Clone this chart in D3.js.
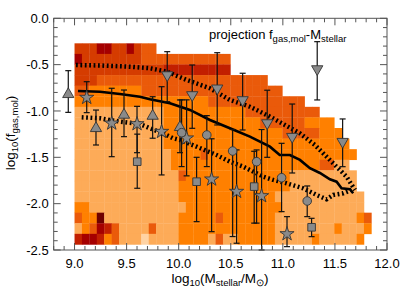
<!DOCTYPE html>
<html>
<head>
<meta charset="utf-8">
<script src="https://cdn.jsdelivr.net/npm/d3@7"></script>
<style>
  body { margin: 0; background: #fff; }
  svg { display: block; font-family: "Liberation Sans", Arial, Helvetica, sans-serif; }
</style>
</head>
<body>
<div id="chart"></div>
<script>
// 2D histogram: rows from top (y high) to bottom, one char per x bin
// . empty, p pale, l light orange, o orange, d dark orange, r red-orange, R red, D dark red, K darkest
const histX0 = 9.0, histDx = 0.07125;
const histYTop = -0.27, histDy = 0.1142;
const histRows = [
  "rrrDDrrDrdd.............................",
  "Drrrrrrrrdddddddddddd...................",
  "rrrrrrrrrrrrRRRRRRRRR...................",
  "rrrddddddddddddddddddddddd..............",
  "ddoooooooddddddddddddddddddd............",
  "ooooooooooooooooooddddddddddddd.........",
  "llllllllllllooooooooooodddddddddd.......",
  "lllllllllllloooooooooooooddddddoooo.....",
  "lllllllllllloooooooooooooooodddddooo....",
  "llllllllllllooooooooooooooooooooooooo...",
  "llllllllllllloooodoooooooooooooooooooo..",
  "lllllllllllllooooooooooooooooooooddll...",
  "lllllllllllllldoooooooooooooolllllllll..",
  "llllllllllllllooooooooooooooolllllllll..",
  "llllllllllllllooooooooooooollllllllllll.",
  "oolllllllllllllooooooooooooolllllllllll.",
  "dooKllllllllllooooodooooooolllllllllllod",
  "lodDRdlllldlllooooooooooooollllllllolllo",
  "RDDRodlllpllllooooldllooooolllllolllllo."
];
const levelColor = {
  p: "#ffd3a4", l: "#fdab58", o: "#ff8000", d: "#ea5a0a",
  r: "#d53c00", R: "#c21f00", D: "#a50000", K: "#6e0000"
};

// median and 1-sigma lines of the model
const medX = [9.033, 9.244, 9.436, 9.628, 9.724, 9.916, 10.108, 10.30, 10.492, 10.684, 10.876, 10.97, 11.068, 11.164, 11.26, 11.356, 11.452, 11.516, 11.564, 11.644, 11.675];
const medY = [-0.784, -0.792, -0.817, -0.846, -0.874, -0.917, -0.989, -1.097, -1.187, -1.277, -1.385, -1.475, -1.475, -1.528, -1.618, -1.669, -1.737, -1.763, -1.834, -1.845, -1.888];
const upX = [9.014, 9.244, 9.532, 9.724, 9.887, 10.079, 10.30, 10.492, 10.684, 10.876, 11.02, 11.164, 11.308, 11.516, 11.612, 11.692];
const upY = [-0.504, -0.509, -0.522, -0.539, -0.576, -0.666, -0.755, -0.881, -0.954, -1.061, -1.151, -1.241, -1.367, -1.601, -1.709, -1.852];
const loX = [9.069, 9.244, 9.436, 9.628, 9.724, 9.849, 9.945, 10.012, 10.172, 10.364, 10.492, 10.62, 10.812, 10.908, 11.036, 11.195, 11.324, 11.42, 11.484, 11.58, 11.66];
const loY = [-1.068, -1.079, -1.115, -1.14, -1.187, -1.241, -1.294, -1.313, -1.385, -1.475, -1.547, -1.601, -1.709, -1.744, -1.78, -1.834, -1.906, -1.953, -1.906, -1.888, -1.852];

// observations: x, y, error bar top, error bar bottom
const triUpX = [8.94, 9.206, 9.475, 9.75, 10.012];
const triUpY = [-0.82, -1.187, -1.043, -1.054, -1.176];
const triUpHi = [-0.565, -0.99, -0.774, -0.846, -0.881];
const triUpLo = [-1.015, -1.367, -1.277, -1.294, -1.45];

const triDnX = [9.89, 10.13, 10.37, 10.614, 10.85, 11.09, 11.33, 11.574];
const triDnY = [-0.612, -0.827, -0.755, -0.881, -1.13, -1.277, -0.547, -1.331];
const triDnHi = [-0.36, -0.504, -0.371, -0.593, -0.776, -0.925, -0.252, -1.086];
const triDnLo = [-0.9, -1.187, -1.151, -1.205, -1.5, -1.669, -0.881, -1.601];

const starX = [9.117, 9.357, 9.60, 9.836, 10.076, 10.316, 10.556, 10.796, 11.04];
const starY = [-0.856, -1.133, -1.14, -1.223, -1.294, -1.737, -1.87, -1.917, -2.327];
const starHi = [-0.684, -0.755, -0.95, -0.738, -0.88, -1.3, -1.42, -1.2, -2.14];
const starLo = [-1.018, -1.493, -1.45, -1.69, -1.7, -2.302, -2.427, -2.5, -2.464];

const circX = [10.028, 10.27, 10.518, 10.748, 10.988, 11.234];
const circY = [-1.234, -1.259, -1.432, -1.547, -1.72, -1.971];
const circHi = [-0.88, -1.05, -1.2, -1.42, -1.349, -1.809];
const circLo = [-1.6, -1.6, -2.355, -2.21, -2.086, -2.14];

const sqX = [9.602, 10.172, 10.725, 11.276];
const sqY = [-1.547, -1.763, -1.816, -2.255];
const sqHi = [-1.25, -1.5, -1.435, -2.158];
const sqLo = [-1.834, -2.194, -2.21, -2.356];

const xTicks = [9.0, 9.5, 10.0, 10.5, 11.0, 11.5, 12.0];
const yTicks = [0.0, -0.5, -1.0, -1.5, -2.0, -2.5];

const width = 407, height = 296;
const plotL = 53.7, plotR = 387, plotT = 18.3, plotB = 250;

const x = d3.scaleLinear().domain([8.8, 12.0]).range([plotL, plotR]);
const y = d3.scaleLinear().domain([-2.5, 0.0]).range([plotB, plotT]);

const svg = d3.select("#chart").append("svg")
    .attr("width", width)
    .attr("height", height);

// heatmap cells
const cells = [];
histRows.forEach((row, j) => {
    for (let i = 0; i < row.length; i++) {
        const c = row[i];
        if (c === ".") continue;
        cells.push({ i, j, c });
    }
});
svg.append("g")
    .selectAll("rect")
    .data(cells)
    .join("rect")
    .attr("x", d => x(histX0 + d.i * histDx))
    .attr("y", d => y(histYTop - d.j * histDy))
    .attr("width", d => x(histX0 + (d.i + 1) * histDx) - x(histX0 + d.i * histDx) + 0.3)
    .attr("height", d => y(histYTop - (d.j + 1) * histDy) - y(histYTop - d.j * histDy) + 0.3)
    .attr("fill", d => levelColor[d.c]);

// model lines
const line = d3.line().x(d => x(d[0])).y(d => y(d[1]));
svg.append("path")
    .datum(d3.zip(upX, upY))
    .attr("d", line)
    .attr("fill", "none")
    .attr("stroke", "#000")
    .attr("stroke-width", 4.5)
    .attr("stroke-dasharray", "1.8,2.6");
svg.append("path")
    .datum(d3.zip(loX, loY))
    .attr("d", line)
    .attr("fill", "none")
    .attr("stroke", "#000")
    .attr("stroke-width", 4.5)
    .attr("stroke-dasharray", "1.8,2.6");
svg.append("path")
    .datum(d3.zip(medX, medY))
    .attr("d", line)
    .attr("fill", "none")
    .attr("stroke", "#000")
    .attr("stroke-width", 2.6);

// observation points with error bars
const groups = [
    { xs: triUpX, ys: triUpY, hi: triUpHi, lo: triUpLo, sym: d3.symbolTriangle, size: 55, rot: 0 },
    { xs: triDnX, ys: triDnY, hi: triDnHi, lo: triDnLo, sym: d3.symbolTriangle, size: 55, rot: 180 },
    { xs: starX, ys: starY, hi: starHi, lo: starLo, sym: d3.symbolStar, size: 62, rot: 0 },
    { xs: circX, ys: circY, hi: circHi, lo: circLo, sym: d3.symbolCircle, size: 58, rot: 0 },
    { xs: sqX, ys: sqY, hi: sqHi, lo: sqLo, sym: d3.symbolSquare, size: 58, rot: 0 }
];

const errG = svg.append("g").attr("stroke", "#111").attr("stroke-width", 1.2);
groups.forEach(g => {
    g.xs.forEach((xv, k) => {
        const px = x(xv);
        errG.append("line").attr("x1", px).attr("x2", px).attr("y1", y(g.hi[k])).attr("y2", y(g.lo[k]));
        errG.append("line").attr("x1", px - 3).attr("x2", px + 3).attr("y1", y(g.hi[k])).attr("y2", y(g.hi[k]));
        errG.append("line").attr("x1", px - 3).attr("x2", px + 3).attr("y1", y(g.lo[k])).attr("y2", y(g.lo[k]));
    });
});
groups.forEach(g => {
    svg.append("g")
        .selectAll("path")
        .data(d3.zip(g.xs, g.ys))
        .join("path")
        .attr("d", d3.symbol().type(g.sym).size(g.size))
        .attr("transform", d => `translate(${x(d[0])},${y(d[1])}) rotate(${g.rot})`)
        .attr("fill", "#8a8a8a")
        .attr("stroke", "#333")
        .attr("stroke-width", 0.9);
});

// frame and inward ticks
const axisColor = "#555";
svg.append("rect")
    .attr("x", plotL).attr("y", plotT)
    .attr("width", plotR - plotL).attr("height", plotB - plotT)
    .attr("fill", "none").attr("stroke", axisColor).attr("stroke-width", 1);

const tickG = svg.append("g").attr("stroke", axisColor).attr("stroke-width", 1);
const xMinor = d3.range(88, 121).map(v => v / 10);
xMinor.forEach(v => {
    const major = Math.abs(v * 2 - Math.round(v * 2)) < 1e-6;
    const len = major ? 7 : 4;
    tickG.append("line").attr("x1", x(v)).attr("x2", x(v)).attr("y1", plotB).attr("y2", plotB - len);
    tickG.append("line").attr("x1", x(v)).attr("x2", x(v)).attr("y1", plotT).attr("y2", plotT + len);
});
const yMinor = d3.range(-25, 1).map(v => v / 10);
yMinor.forEach(v => {
    const major = Math.abs(v * 2 - Math.round(v * 2)) < 1e-6;
    const len = major ? 7 : 4;
    tickG.append("line").attr("x1", plotL).attr("x2", plotL + len).attr("y1", y(v)).attr("y2", y(v));
    tickG.append("line").attr("x1", plotR).attr("x2", plotR - len).attr("y1", y(v)).attr("y2", y(v));
});

svg.append("g")
    .selectAll("text")
    .data(xTicks)
    .join("text")
    .attr("x", d => x(d))
    .attr("y", 268)
    .attr("text-anchor", "middle")
    .attr("font-size", 13)
    .text(d => d.toFixed(1));

svg.append("g")
    .selectAll("text")
    .data(yTicks)
    .join("text")
    .attr("x", plotL - 5)
    .attr("y", d => y(d) + 4.6)
    .attr("text-anchor", "end")
    .attr("font-size", 13)
    .text(d => d.toFixed(1));

// axis titles
const xt = svg.append("text")
    .attr("x", 220)
    .attr("y", 283)
    .attr("text-anchor", "middle")
    .attr("font-size", 13.5);
xt.append("tspan").text("log");
xt.append("tspan").attr("font-size", 9.5).attr("dy", 3).text("10");
xt.append("tspan").attr("dy", -3).text("(M");
xt.append("tspan").attr("font-size", 9.5).attr("dy", 3).text("stellar");
xt.append("tspan").attr("dy", -3).text("/M");
xt.append("tspan").attr("font-size", 9.5).attr("dy", 3).text("\u2299");
xt.append("tspan").attr("dy", -3).text(")");

const yt = svg.append("text")
    .attr("transform", "translate(15,133) rotate(-90)")
    .attr("text-anchor", "middle")
    .attr("font-size", 13.5);
yt.append("tspan").text("log");
yt.append("tspan").attr("font-size", 9.5).attr("dy", 3).text("10");
yt.append("tspan").attr("dy", -3).text("(f");
yt.append("tspan").attr("font-size", 9.5).attr("dy", 3).text("gas,mol");
yt.append("tspan").attr("dy", -3).text(")");

const title = svg.append("text")
    .attr("x", 209)
    .attr("y", 39)
    .attr("font-size", 13);
title.append("tspan").text("projection f");
title.append("tspan").attr("font-size", 9.5).attr("dy", 3).text("gas,mol");
title.append("tspan").attr("dy", -3).text("-M");
title.append("tspan").attr("font-size", 9.5).attr("dy", 3).text("stellar");
</script>
</body>
</html>
